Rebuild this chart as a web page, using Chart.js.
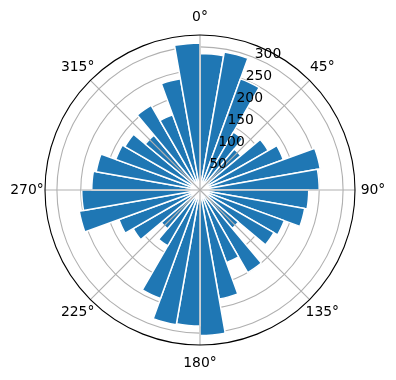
<!DOCTYPE html>
<html>
<head>
<meta charset="utf-8">
<script src="https://cdn.jsdelivr.net/npm/chart.js@4"></script>
<style>
  html, body { margin: 0; padding: 0; background: #fff; }
  canvas { display: block; }
</style>
</head>
<body>
<canvas id="rose" width="396" height="380"></canvas>
<script>
// bar sectors: start direction in degrees, clockwise from north
const directions = [0, 10, 20, 30, 40, 50, 60, 70, 80, 90, 100, 110,
                    120, 130, 140, 150, 160, 170, 180, 190, 200, 210, 220, 230,
                    240, 250, 260, 270, 280, 290, 300, 310, 320, 330, 340, 350];
// bar heights
const counts = [286, 294, 248, 140, 112, 165, 186, 256, 250, 228, 223, 188,
                179, 105, 200, 162, 232, 305, 285, 287, 242, 135, 106, 162,
                181, 257, 248, 227, 221, 188, 182, 150, 205, 168, 237, 308];
const radialTicks = [50, 100, 150, 200, 250, 300];
const angleTicks = [0, 45, 90, 135, 180, 225, 270, 315];
const rMax = 325;

const barColor = '#1f77b4';
const gridColor = '#b0b0b0';
const labelFont = '13.9px "DejaVu Sans", sans-serif';

const polarDecor = {
    id: 'polarDecor',
    afterDraw(chart) {
        const scale = chart.scales.r;
        const ctx = chart.ctx;
        const cx = scale.xCenter;
        const cy = scale.yCenter;
        const outer = scale.getDistanceFromCenterForValue(rMax);

        ctx.save();
        // angular grid lines
        ctx.strokeStyle = gridColor;
        ctx.lineWidth = 1.1;
        angleTicks.forEach(a => {
            const t = a * Math.PI / 180;
            ctx.beginPath();
            ctx.moveTo(cx, cy);
            ctx.lineTo(cx + outer * Math.sin(t), cy - outer * Math.cos(t));
            ctx.stroke();
        });

        // outer spine on top
        ctx.strokeStyle = '#000';
        ctx.beginPath();
        ctx.arc(cx, cy, outer, 0, Math.PI * 2);
        ctx.stroke();

        ctx.fillStyle = '#000';
        ctx.font = labelFont;

        // angle labels
        ctx.textAlign = 'center';
        ctx.textBaseline = 'middle';
        angleTicks.forEach(a => {
            const t = a * Math.PI / 180;
            const r = outer + 18;
            ctx.fillText(a + '°', cx + r * Math.sin(t), cy - r * Math.cos(t));
        });

        // radial labels along 22.5°
        ctx.textAlign = 'left';
        ctx.textBaseline = 'alphabetic';
        const t = 22.5 * Math.PI / 180;
        radialTicks.forEach(v => {
            const r = scale.getDistanceFromCenterForValue(v);
            ctx.fillText(String(v), cx + r * Math.sin(t), cy - r * Math.cos(t));
        });
        ctx.restore();
    }
};

new Chart(document.getElementById('rose'), {
    type: 'polarArea',
    data: {
        labels: directions.map(d => d + '°'),
        datasets: [{
            data: counts,
            backgroundColor: barColor,
            borderColor: '#ffffff',
            borderWidth: 1.5
        }]
    },
    options: {
        responsive: false,
        animation: false,
        devicePixelRatio: 1,
        layout: { padding: { left: 45, right: 41, top: 35, bottom: 35 } },
        plugins: {
            legend: { display: false },
            tooltip: { enabled: false }
        },
        scales: {
            r: {
                min: 0,
                max: rMax,
                z: 1,
                ticks: { display: false },
                afterBuildTicks(scale) {
                    scale.ticks = [0].concat(radialTicks).map(v => ({ value: v }));
                },
                grid: {
                    circular: true,
                    color: gridColor,
                    lineWidth: 1.1
                }
            }
        }
    },
    plugins: [polarDecor]
});
</script>
</body>
</html>
